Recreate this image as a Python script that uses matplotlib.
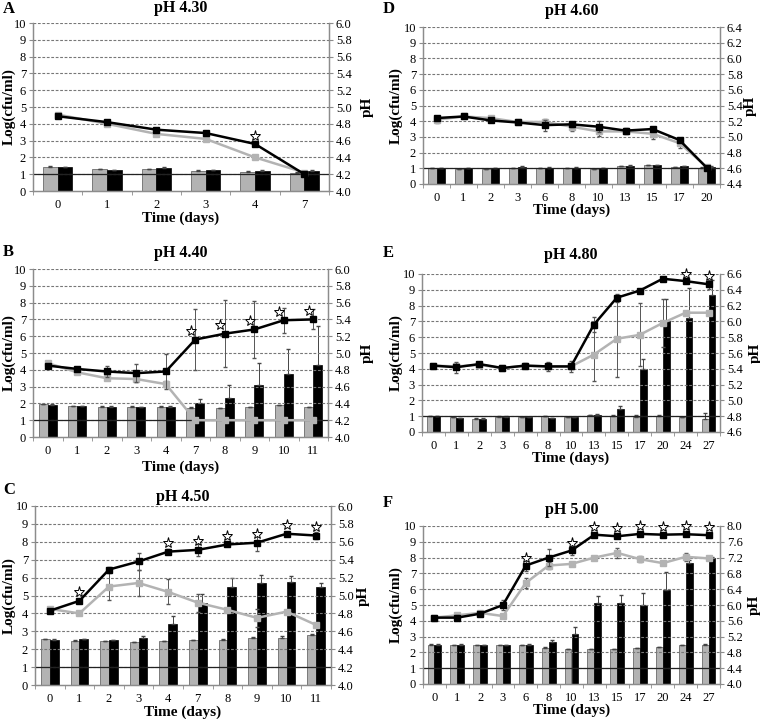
import numpy as np
import matplotlib
matplotlib.use("Agg")
import matplotlib.pyplot as plt

plt.rcParams['font.family'] = ['Liberation Serif', 'DejaVu Sans']

# ---- data ----
# panel A, pH 4.30
a_days = ["0", "1", "2", "3", "4", "7"]
a_ph_gray = [4.29, 4.26, 4.26, 4.24, 4.23, 4.22]
a_ph_black = [4.28, 4.25, 4.27, 4.25, 4.24, 4.24]
a_ph_gray_err = [0.01, 0.005, 0.005, 0.005, 0.005, 0.005]
a_ph_black_err = [0.005, 0.005, 0.01, 0.005, 0.01, 0.005]
a_log_gray = [4.55, 4.0, 3.4, 3.1, 2.0, 1.1]
a_log_black = [4.45, 4.1, 3.65, 3.45, 2.8, 1.0]
a_log_gray_err = [0.1, 0.05, 0.05, 0.05, 0.1, 0.05]
a_log_black_err = [0.1, 0.1, 0.1, 0.1, 0.15, 0.05]
a_stars = [4]

# panel B, pH 4.40
b_days = ["0", "1", "2", "3", "4", "7", "8", "9", "10", "11"]
b_ph_gray = [4.39, 4.37, 4.36, 4.36, 4.36, 4.35, 4.344, 4.356, 4.38, 4.356]
b_ph_black = [4.384, 4.366, 4.36, 4.356, 4.36, 4.40, 4.47, 4.62, 4.75, 4.86]
b_ph_gray_err = [0.005, 0.005, 0.005, 0.005, 0.005, 0.005, 0.005, 0.005, 0.005, 0.005]
b_ph_black_err = [0.005, 0.005, 0.005, 0.005, 0.005, 0.05, 0.15, 0.26, 0.3, 0.46]
b_log_gray = [4.4, 3.85, 3.5, 3.45, 3.15, 1.0, 1.0, 1.0, 1.0, 1.0]
b_log_black = [4.25, 4.05, 3.9, 3.8, 3.9, 5.8, 6.15, 6.4, 6.95, 7.0]
b_log_gray_err = [0.1, 0.1, 0.1, 0.2, 0.2, 0.0, 0.0, 0.0, 0.0, 0.0]
b_log_black_err = [0.1, 0.1, 0.35, 0.55, 1.05, 1.8, 2.0, 1.7, 0.75, 0.6]
b_stars = [5, 6, 7, 8, 9]

# panel C, pH 4.50
c_days = ["0", "1", "2", "3", "4", "7", "8", "9", "10", "11"]
c_ph_gray = [4.51, 4.496, 4.49, 4.48, 4.49, 4.5, 4.504, 4.52, 4.52, 4.56]
c_ph_black = [4.504, 4.51, 4.5, 4.53, 4.68, 4.92, 5.1, 5.14, 5.15, 5.09]
c_ph_gray_err = [0.005, 0.005, 0.005, 0.005, 0.005, 0.005, 0.005, 0.02, 0.03, 0.01]
c_ph_black_err = [0.005, 0.005, 0.005, 0.02, 0.09, 0.1, 0.09, 0.09, 0.07, 0.05]
c_log_gray = [4.25, 4.0, 5.5, 5.7, 5.2, 4.6, 4.2, 3.75, 4.1, 3.35]
c_log_black = [4.15, 4.7, 6.45, 6.9, 7.45, 7.55, 7.85, 7.95, 8.45, 8.35]
c_log_gray_err = [0.05, 0.05, 0.75, 0.75, 0.7, 0.5, 0.1, 0.5, 0.1, 0.05]
c_log_black_err = [0.1, 0.05, 0.15, 0.45, 0.15, 0.35, 0.1, 0.45, 0.1, 0.2]
c_stars = [1, 4, 5, 6, 7, 8, 9]

# panel D, pH 4.60
d_days = ["0", "1", "2", "3", "6", "8", "10", "13", "15", "17", "20"]
d_ph_gray = [4.6, 4.59, 4.586, 4.6, 4.6, 4.604, 4.59, 4.624, 4.636, 4.616, 4.61]
d_ph_black = [4.6, 4.6, 4.6, 4.614, 4.61, 4.61, 4.6, 4.634, 4.644, 4.626, 4.62]
d_ph_gray_err = [0.002] * 11
d_ph_black_err = [0.002, 0.004, 0.004, 0.01, 0.004, 0.004, 0.004, 0.004, 0.004, 0.004, 0.004]
d_log_gray = [4.1, 4.3, 4.2, 3.95, 3.95, 3.65, 3.35, 3.35, 3.2, 2.6, 1.1]
d_log_black = [4.2, 4.3, 4.05, 3.92, 3.75, 3.8, 3.65, 3.4, 3.5, 2.8, 1.05]
d_log_gray_err = [0.2, 0.1, 0.15, 0.1, 0.2, 0.3, 0.3, 0.15, 0.35, 0.3, 0.1]
d_log_black_err = [0.05, 0.05, 0.1, 0.1, 0.35, 0.15, 0.35, 0.15, 0.15, 0.15, 0.05]
d_stars = []

# panel E, pH 4.80
e_days = ["0", "1", "2", "3", "6", "8", "10", "13", "15", "17", "20", "24", "27"]
e_ph_gray = [4.8, 4.784, 4.77, 4.796, 4.79, 4.8, 4.79, 4.81, 4.8, 4.79, 4.8, 4.79, 4.76]
e_ph_black = [4.8, 4.776, 4.77, 4.796, 4.79, 4.776, 4.784, 4.82, 4.89, 5.4, 6.0, 6.04, 6.33]
e_ph_gray_err = [0.002, 0.004, 0.002, 0.002, 0.004, 0.004, 0.004, 0.004, 0.01, 0.02, 0.02, 0.004, 0.08]
e_ph_black_err = [0.002, 0.002, 0.002, 0.002, 0.002, 0.002, 0.002, 0.004, 0.04, 0.13, 0.28, 0.38, 0.2]
e_log_gray = [4.2, 4.15, 4.25, 4.05, 4.2, 4.15, 4.15, 4.9, 5.9, 6.15, 6.9, 7.55, 7.55]
e_log_black = [4.2, 4.1, 4.3, 4.05, 4.2, 4.15, 4.15, 6.8, 8.5, 8.95, 9.7, 9.55, 9.35]
e_log_gray_err = [0.05, 0.1, 0.05, 0.05, 0.05, 0.1, 0.15, 1.7, 2.4, 2.0, 1.5, 0.0, 0.0]
e_log_black_err = [0.05, 0.35, 0.1, 0.05, 0.15, 0.3, 0.35, 0.5, 0.25, 0.05, 0.05, 0.05, 0.3]
e_stars = [11, 12]

# panel F, pH 5.00
f_days = ["0", "1", "2", "3", "6", "8", "10", "13", "15", "17", "20", "24", "27"]
f_ph_gray = [5.0, 4.99, 4.98, 4.99, 4.98, 4.92, 4.88, 4.88, 4.88, 4.9, 4.94, 4.98, 4.98]
f_ph_black = [5.0, 5.0, 4.98, 4.99, 5.0, 5.06, 5.26, 6.04, 6.06, 6.0, 6.38, 7.06, 7.18]
f_ph_gray_err = [0.004, 0.004, 0.004, 0.004, 0.004, 0.008, 0.008, 0.008, 0.008, 0.008, 0.008, 0.008, 0.04]
f_ph_black_err = [0.004, 0.004, 0.004, 0.004, 0.004, 0.06, 0.18, 0.18, 0.2, 0.3, 0.46, 0.08, 0.04]
f_log_gray = [4.2, 4.35, 4.5, 4.3, 6.4, 7.5, 7.6, 8.0, 8.3, 7.9, 7.65, 8.05, 7.95]
f_log_black = [4.2, 4.2, 4.45, 5.0, 7.5, 8.0, 8.45, 9.45, 9.35, 9.5, 9.45, 9.48, 9.42]
f_log_gray_err = [0.05, 0.1, 0.05, 0.05, 0.3, 0.2, 0.05, 0.05, 0.3, 0.2, 0.05, 0.25, 0.1]
f_log_black_err = [0.05, 0.15, 0.05, 0.3, 0.35, 0.55, 0.3, 0.05, 0.05, 0.05, 0.05, 0.05, 0.05]
f_stars = [4, 6, 7, 8, 9, 10, 11, 12]

W, H = 760, 719

# layout in pixels: axes (left, top, right, bottom), title y, xlabel y,
# letter (x, y), pH label x
panels = [
    ("A", "pH 4.30", (33, 23, 329, 191), 8, 218, (3, 9), 367, (4.0, 6.0), 0.2,
     a_days, a_ph_gray, a_ph_black, a_ph_gray_err, a_ph_black_err,
     a_log_gray, a_log_black, a_log_gray_err, a_log_black_err, a_stars, 0.0),
    ("B", "pH 4.40", (33, 269, 328, 437), 253, 467, (3, 252), 367, (4.0, 6.0), 0.2,
     b_days, b_ph_gray, b_ph_black, b_ph_gray_err, b_ph_black_err,
     b_log_gray, b_log_black, b_log_gray_err, b_log_black_err, b_stars, -0.15),
    ("C", "pH 4.50", (35, 506, 331, 685), 497, 712, (3, 490), 363, (4.0, 6.0), 0.2,
     c_days, c_ph_gray, c_ph_black, c_ph_gray_err, c_ph_black_err,
     c_log_gray, c_log_black, c_log_gray_err, c_log_black_err, c_stars, 0.0),
    ("D", "pH 4.60", (423, 27, 720, 184), 11, 210, (383, 9), 750, (4.4, 6.4), 0.2,
     d_days, d_ph_gray, d_ph_black, d_ph_gray_err, d_ph_black_err,
     d_log_gray, d_log_black, d_log_gray_err, d_log_black_err, d_stars, 0.0),
    ("E", "pH 4.80", (422, 274, 720, 432), 255, 458, (383, 253), 755, (4.6, 6.6), 0.2,
     e_days, e_ph_gray, e_ph_black, e_ph_gray_err, e_ph_black_err,
     e_log_gray, e_log_black, e_log_gray_err, e_log_black_err, e_stars, 0.0),
    ("F", "pH 5.00", (423, 526, 720, 684), 510, 710, (383, 503), 754, (4.0, 8.0), 0.4,
     f_days, f_ph_gray, f_ph_black, f_ph_gray_err, f_ph_black_err,
     f_log_gray, f_log_black, f_log_gray_err, f_log_black_err, f_stars, 0.0),
]

GRAY = "#b3b3b3"
AX = "#8c8c8c"

fig = plt.figure(figsize=(W / 100, H / 100), dpi=100)

for (letter, title, box, ty, xly, lpos, phx, phr, phstep, days, phg, phb, phge, phbe,
     lg, lb, lge, lbe, stars, sdx) in panels:
    l, t, r, b = box
    ax = fig.add_axes([l / W, 1 - b / H, (r - l) / W, (b - t) / H])
    ax2 = ax.twinx()
    x = np.arange(len(days))
    w = 0.3

    # bars = pH (right axis)
    ax2.bar(x - w / 2, np.array(phg) - phr[0], w, bottom=phr[0], color=GRAY,
            edgecolor="#555555", linewidth=0.5, zorder=2)
    ax2.bar(x + w / 2, np.array(phb) - phr[0], w, bottom=phr[0], color="black",
            edgecolor="black", linewidth=0.5, zorder=2)
    ax2.errorbar(x - w / 2, phg, yerr=[np.zeros(len(x)), phge], fmt="none",
                 ecolor="#444444", elinewidth=0.7, capsize=1.5, zorder=3)
    ax2.errorbar(x + w / 2, phb, yerr=[np.zeros(len(x)), phbe], fmt="none",
                 ecolor="#444444", elinewidth=0.7, capsize=1.5, zorder=3)
    ax2.set_ylim(*phr)
    nt = int(round((phr[1] - phr[0]) / phstep))
    ax2.set_yticks([phr[0] + i * phstep for i in range(nt + 1)])
    ax2.set_yticklabels([f"{phr[0] + i * phstep:.1f}" for i in range(nt + 1)],
                        fontsize=9)
    ax2.tick_params(axis="y", length=3, color=AX, pad=2)

    # lines = log cfu/ml (left axis), drawn above bars
    ax.set_zorder(ax2.get_zorder() + 1)
    ax.patch.set_visible(False)
    ax.axhline(1, color="#222222", lw=0.9, zorder=1)
    ax.errorbar(x, lg, yerr=lge, color=GRAY, marker="s", ms=4, lw=1.8,
                ecolor="#555555", elinewidth=0.7, capsize=1.5, zorder=4)
    ax.errorbar(x, lb, yerr=lbe, color="black", marker="s", ms=4, lw=1.8,
                ecolor="#555555", elinewidth=0.7, capsize=1.5, zorder=5)
    if stars:
        sx = np.array([x[s] for s in stars]) + sdx
        sy = np.minimum(np.array([lb[s] for s in stars]) + 0.5, 10.0)
        ax.plot(sx, sy, ls="none", marker="*", ms=8, mfc="white",
                mec="black", mew=0.7, zorder=6, clip_on=False)

    ax.set_ylim(0, 10)
    ax.set_yticks(range(11))
    ax.set_xlim(-0.5, len(days) - 0.5)
    ax.set_xticks(x)
    ax.set_xticklabels(days, fontsize=9)
    ax.set_xticks(np.arange(len(days) + 1) - 0.5, minor=True)
    ax.tick_params(axis="x", which="major", length=0, pad=6)
    ax.tick_params(axis="x", which="minor", length=3, color=AX)
    ax.tick_params(axis="y", labelsize=9, length=3, color=AX, pad=2)
    for yy in range(1, 11):
        ax.axhline(yy, color="#777777", lw=0.8, ls=(0, (2.5, 1.5)), zorder=0)

    for a in (ax, ax2):
        a.spines["top"].set_visible(False)
        for side in ("left", "right", "bottom"):
            a.spines[side].set_color(AX)
            a.spines[side].set_linewidth(0.9)

    cy = 1 - (t + b) / 2 / H
    fig.text(9 / W if l < 300 else 396 / W, cy, "Log(cfu/ml)", fontsize=11,
             fontweight="bold", rotation=90, ha="center", va="center")
    fig.text(phx / W, cy, "pH", fontsize=11, fontweight="bold",
             rotation=90, ha="center", va="center")
    cx = (l + r) / 2 / W
    fig.text(cx, 1 - ty / H, title, fontsize=11.5, fontweight="bold",
             ha="center", va="center")
    fig.text(cx, 1 - xly / H, "Time (days)", fontsize=11, fontweight="bold",
             ha="center", va="center")
    fig.text(lpos[0] / W, 1 - lpos[1] / H, letter, fontsize=12,
             fontweight="bold", ha="left", va="center")

fig.savefig("out.png", dpi=100)
